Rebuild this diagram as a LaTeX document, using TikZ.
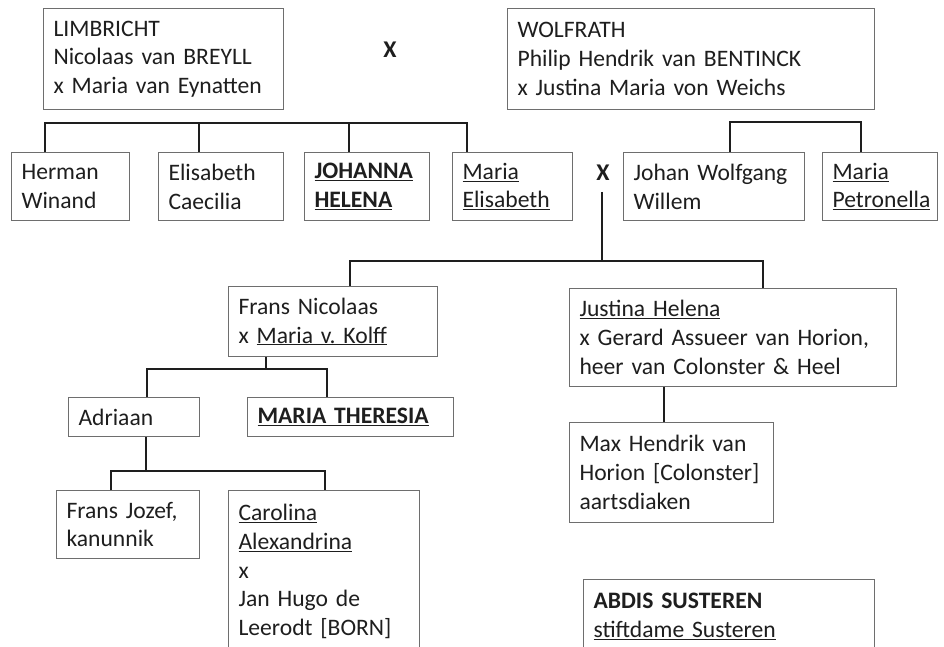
\documentclass[tikz,border=0pt]{standalone}
\usepackage{fontspec}
\setmainfont{Carlito}
\usetikzlibrary{calc}
\definecolor{boxgray}{HTML}{6E6E6E}
\definecolor{ink}{HTML}{1E1E1E}
\tikzset{
  box/.style={draw=boxgray, line width=1.1pt, anchor=north west, align=left,
    inner xsep=10pt, inner ysep=0pt, text=ink, font=\fontsize{23.6}{28.8}\selectfont\frenchspacing},
  bsize/.style 2 args={text width=#1pt-20pt, minimum height=#2pt},
  conn/.style={draw=ink, line width=2.6pt},
  marr/.style={font=\fontsize{24}{28}\selectfont\bfseries, text=ink, inner sep=1pt}
}
\begin{document}
\begin{tikzpicture}[x=1pt,y=-1pt]
\clip (0,0) rectangle (944,646);
\fill[white] (0,0) rectangle (944,646);
% boxes
\node[box,bsize={240}{101}] (limb) at (43,8) {LIMBRICHT\\Nicolaas van BREYLL\\x Maria van Eynatten};
\node[box,bsize={367}{101}] (wolf) at (507,8) {WOLFRATH\\Philip Hendrik van BENTINCK\\x Justina Maria von Weichs};
\node[marr] (x1) at (390,50) {X};
\node[box,bsize={118}{68}] (herman) at (11,152) {Herman\\Winand};
\node[box,bsize={125}{68}] (elis) at (158,152) {Elisabeth\\Caecilia};
\node[box,bsize={125}{68}] (joh) at (304,152) {\textbf{\underline{JOHANNA}}\\\textbf{\underline{HELENA}}};
\node[box,bsize={120}{68}] (mel) at (452,152) {\underline{Maria}\\\underline{Elisabeth}};
\node[marr] (x2) at (603,173) {X};
\node[box,bsize={181}{68}] (johan) at (623,152) {Johan Wolfgang\\Willem};
\node[box,bsize={115}{68}] (mpet) at (822,152) {\underline{Maria}\\\underline{Petronella}};
\node[box,bsize={209}{70}] (frans) at (228,286) {Frans Nicolaas\\x \underline{Maria v. Kolff}};
\node[box,bsize={327}{98}] (just) at (569,288) {\underline{Justina Helena}\\x Gerard Assueer van Horion,\\heer van Colonster \& Heel};
\node[box,bsize={131}{39}] (adr) at (68,397) {Adriaan};
\node[box,bsize={206}{39}] (mth) at (247,397) {\textbf{\underline{MARIA THERESIA}}};
\node[box,bsize={204}{100}] (max) at (569,422) {Max Hendrik van\\Horion [Colonster]\\aartsdiaken};
\node[box,bsize={143}{68}] (fjoz) at (56,490) {Frans Jozef,\\kanunnik};
\node[box,text width=171pt,text height=30pt,text depth=200pt] (carol) at (228,490) {\underline{Carolina}\\\underline{Alexandrina}\\x\\Jan Hugo de\\Leerodt [BORN]};
\node[box,text width=271pt,text height=29pt,text depth=120pt] (abdis) at (583,579) {\textbf{ABDIS SUSTEREN}\\\underline{stiftdame Susteren}};
% connector coordinates
\coordinate (tlA) at (45,123); \coordinate (tlB) at (199,123);
\coordinate (tlC) at (349,123); \coordinate (tlD) at (467,123);
\coordinate (trA) at (730,122); \coordinate (trB) at (861,122);
\coordinate (mA) at (350,261); \coordinate (mM) at (602,261); \coordinate (mB) at (763,261);
\coordinate (fA) at (147,369); \coordinate (fM) at (266,369); \coordinate (fB) at (327,369);
\coordinate (aA) at (111,471); \coordinate (aM) at (146,471); \coordinate (aB) at (325,471);
\coordinate (jX) at (664,400);
% connectors
\draw[conn] (herman.north -| tlA) -- (tlA) -- (tlD) -- (mel.north -| tlD);
\draw[conn] (tlB) -- (elis.north -| tlB);
\draw[conn] (tlC) -- (joh.north -| tlC);
\draw[conn] (johan.north -| trA) -- (trA) -- (trB) -- (mpet.north -| trB);
\draw[conn] ([yshift=-10pt]x2.south -| mM) -- (mM);
\draw[conn] (frans.north -| mA) -- (mA) -- (mB) -- (just.north -| mB);
\draw[conn] (frans.south -| fM) -- (fM);
\draw[conn] (adr.north -| fA) -- (fA) -- (fB) -- (mth.north -| fB);
\draw[conn] (adr.south -| aM) -- (aM);
\draw[conn] (fjoz.north -| aA) -- (aA) -- (aB) -- (carol.north -| aB);
\draw[conn] (just.south -| jX) -- (max.north -| jX);
\end{tikzpicture}
\end{document}
